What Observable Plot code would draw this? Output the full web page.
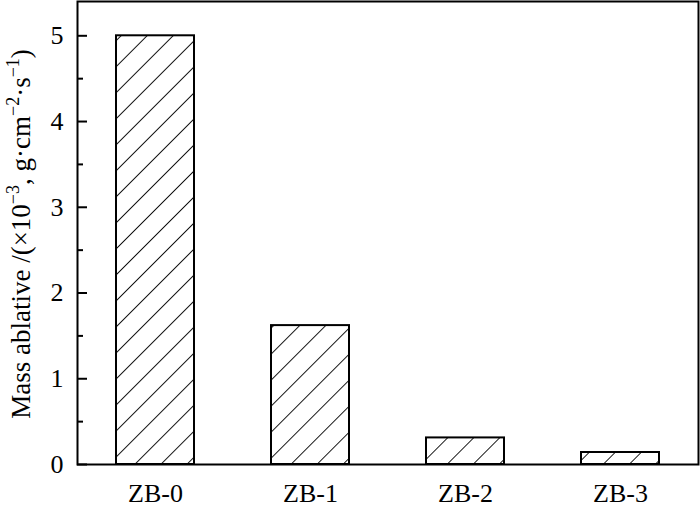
<!DOCTYPE html>
<html><head><meta charset="utf-8">
<script src="https://cdn.jsdelivr.net/npm/d3@7"></script>
<script src="https://cdn.jsdelivr.net/npm/@observablehq/plot@0.6"></script>
<style>body{margin:0;background:#fff}</style>
</head><body><div id="chart"></div>
<script>
const categories = ["ZB-0", "ZB-1", "ZB-2", "ZB-3"];
const values = [5.0, 1.62, 0.31, 0.14];
const majorTicks = [0, 1, 2, 3, 4, 5];
const minorTicks = [0.5, 1.5, 2.5, 3.5, 4.5];
const data = categories.map((c, i) => ({sample: c, value: values[i]}));

const chart = Plot.plot({
  width: 700, height: 507,
  marginLeft: 77, marginRight: 2, marginTop: 1, marginBottom: 43,
  style: {fontFamily: "'Liberation Serif', 'Times New Roman', serif", fontSize: "26px", color: "black", background: "white"},
  x: {domain: categories, paddingInner: 0.5, paddingOuter: 0.25, label: null},
  y: {domain: [0, 5.4], label: null},
  marks: [
    Plot.barY(data, {x: "sample", y: "value", fill: "url(#hatch)", stroke: "black", strokeWidth: 2}),
    Plot.axisY(majorTicks, {tickSize: 0, tickPadding: 14, fontSize: 26, tickFormat: d => String(d), label: null}),
    Plot.axisY(majorTicks, {tickSize: -10, tickFormat: () => "", strokeWidth: 2, label: null}),
    Plot.axisY(minorTicks, {tickSize: -6, tickFormat: () => "", strokeWidth: 2, label: null}),
    Plot.axisX({tickSize: 0, tickPadding: 19, fontSize: 26, label: null}),
    Plot.frame({stroke: "black", strokeWidth: 2})
  ]
});

const svg = d3.select(chart);
svg.insert("defs", ":first-child").html(
  `<pattern id="hatch" patternUnits="userSpaceOnUse" width="18.4" height="18.4" patternTransform="rotate(45)">
     <rect width="18.4" height="18.4" fill="white"/>
     <line x1="0" y1="0" x2="0" y2="18.4" stroke="black" stroke-width="1.8"/>
   </pattern>`
);

const lbl = svg.append("text")
  .attr("transform", "translate(21,234) rotate(-90)")
  .attr("text-anchor", "middle")
  .attr("dy", "0.35em")
  .attr("font-family", "'Liberation Serif', 'Times New Roman', serif")
  .attr("font-size", 27)
  .attr("fill", "black");
const parts = [
  ["Mass ablative /(×10", false], ["−3", true], [", g·cm", false],
  ["−2", true], ["·s", false], ["−1", true], [")", false]
];
let up = false;
for (const [t, sup] of parts) {
  const ts = lbl.append("tspan").text(t);
  if (sup && !up) { ts.attr("dy", -11).attr("font-size", 18); up = true; }
  else if (sup) { ts.attr("font-size", 18); }
  else if (up) { ts.attr("dy", 11); up = false; }
}

document.getElementById("chart").appendChild(chart);
</script>
</body></html>
